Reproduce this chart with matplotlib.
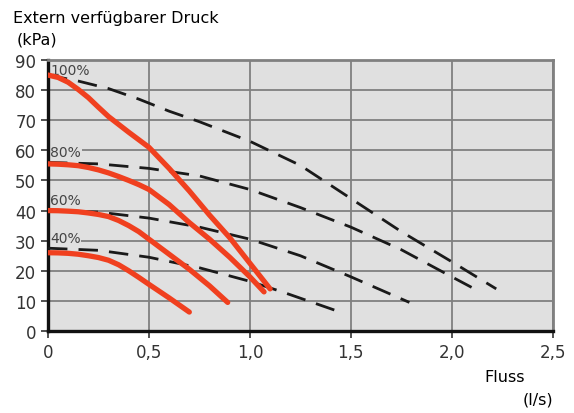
import matplotlib.pyplot as plt

# Anlagenkennlinien (gestrichelt)
x_d100 = [0, 0.15, 0.3, 0.45, 0.6, 0.75, 1.0, 1.25, 1.5, 1.75, 2.0, 2.22]
y_d100 = [85, 83, 80.5, 77, 73, 69.5, 63, 55, 44, 33, 23, 14]
x_d80 = [0, 0.25, 0.5, 0.75, 1.0, 1.25, 1.5, 1.75, 2.0, 2.14]
y_d80 = [56, 55.5, 54, 51.5, 47, 41, 34.5, 27, 18, 13]
x_d60 = [0, 0.25, 0.5, 0.75, 1.0, 1.25, 1.5, 1.79]
y_d60 = [40, 39.5, 37.5, 34.5, 30.5, 25, 18, 9.5]
x_d40 = [0, 0.25, 0.5, 0.75, 1.0, 1.16, 1.46]
y_d40 = [27.5, 26.8, 24.5, 21, 16.5, 13, 6]

# Pumpenkurven (rot)
x_r100 = [0, 0.05, 0.1, 0.15, 0.2, 0.25, 0.3, 0.4, 0.5, 0.6, 0.7, 0.8, 0.9, 1.0, 1.1]
y_r100 = [85, 84.2, 82.6, 80.2, 77.5, 74.3, 71.2, 66, 61, 54, 46.5, 38.5, 31, 22.5, 14]
x_r80 = [0, 0.05, 0.1, 0.15, 0.2, 0.25, 0.3, 0.35, 0.4, 0.45, 0.5, 0.6, 0.7, 0.8, 0.9, 1.0, 1.07]
y_r80 = [55.5, 55.4, 55.2, 54.9, 54.3, 53.5, 52.5, 51.3, 50, 48.6, 47, 42, 36, 30.5, 24.5, 18, 13]
x_r60 = [0, 0.05, 0.1, 0.15, 0.2, 0.25, 0.3, 0.35, 0.4, 0.45, 0.5, 0.6, 0.7, 0.8, 0.89]
y_r60 = [40, 39.95, 39.8, 39.6, 39.2, 38.7, 38, 36.7, 35, 33, 30.5, 25.5, 20.5, 15, 9.5]
x_r40 = [0, 0.05, 0.1, 0.15, 0.2, 0.25, 0.3, 0.35, 0.4, 0.45, 0.5, 0.6, 0.7]
y_r40 = [26, 25.95, 25.8, 25.5, 25, 24.4, 23.5, 22, 20, 17.8, 15.5, 11, 6.3]

labels = ["100%", "80%", "60%", "40%"]
label_y = [85.4, 58, 42.2, 29.6]

xticks = [0, 0.5, 1.0, 1.5, 2.0, 2.5]
xtick_labels = ["0", "0,5", "1,0", "1,5", "2,0", "2,5"]
yticks = [0, 10, 20, 30, 40, 50, 60, 70, 80, 90]

fig = plt.figure(figsize=(5.74, 4.14), dpi=100)
ax = fig.add_axes([0.0836, 0.198, 0.8794, 0.6547])
bg = "#e0e0e0"
ax.set_facecolor(bg)

for xs, ys in [(x_d100, y_d100), (x_d80, y_d80), (x_d60, y_d60), (x_d40, y_d40)]:
    ax.plot(xs, ys, color="#1a1a1a", lw=2.0, dashes=(7, 4), zorder=3)

red = "#f0401f"
for xs, ys in [(x_r100, y_r100), (x_r80, y_r80), (x_r60, y_r60), (x_r40, y_r40)]:
    ax.plot(xs, ys, color=red, lw=3.8, solid_capstyle="round",
            solid_joinstyle="round", zorder=4)

for lab, yl in zip(labels, label_y):
    ax.text(0.012, yl, lab, fontsize=10, color="#444444", va="baseline", ha="left",
            bbox=dict(facecolor=bg, edgecolor="none", pad=0.3), zorder=2.5)

ax.set_xlim(0, 2.5)
ax.set_ylim(0, 90)
ax.set_xticks(xticks)
ax.set_xticklabels(xtick_labels)
ax.set_yticks(yticks)
ax.tick_params(labelsize=12, length=5, width=1.2, colors="#333333", direction="out")
ax.grid(True, color="#808080", lw=1.3)
ax.set_axisbelow(True)

ax.spines["left"].set_color("#111111")
ax.spines["left"].set_linewidth(2.4)
ax.spines["bottom"].set_color("#111111")
ax.spines["bottom"].set_linewidth(2.4)
ax.spines["top"].set_color("#808080")
ax.spines["top"].set_linewidth(2)
ax.spines["right"].set_color("#808080")
ax.spines["right"].set_linewidth(2)

fig.text(13 / 574, 1 - 18 / 414, "Extern verfügbarer Druck", fontsize=11.5, va="center", ha="left")
fig.text(17 / 574, 1 - 40 / 414, "(kPa)", fontsize=11.5, va="center", ha="left")
fig.text(505 / 574, 1 - 378 / 414, "Fluss", fontsize=11.5, va="center", ha="center")
fig.text(538 / 574, 1 - 400 / 414, "(l/s)", fontsize=11.5, va="center", ha="center")

fig.savefig("out.png", dpi=100)
